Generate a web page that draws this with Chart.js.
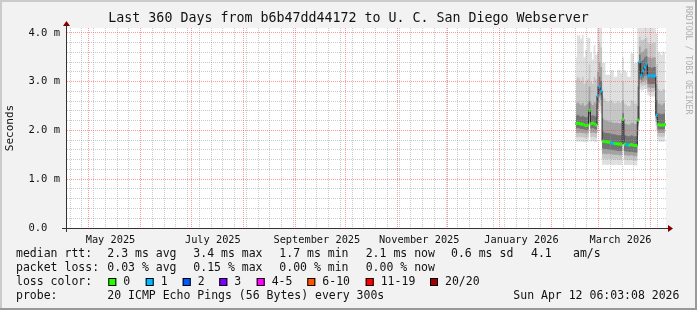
<!DOCTYPE html>
<html>
<head>
<meta charset="utf-8">
<script src="https://cdn.jsdelivr.net/npm/chart.js@4.4.1/dist/chart.umd.min.js"></script>
<style>
  html, body { margin: 0; padding: 0; background: #f2f2f2; }
</style>
</head>
<body>
<canvas id="chart" width="697" height="310"></canvas>
<script>
const DAY = 864e5;
const START = Date.UTC(2025, 3, 17, 6, 3); // graph start (360 days before the stamp)
const X_MIN = 0.22, X_MAX = 357.85;        // visible range, days after START
const Y_MAX = 4.1;                          // ms

const title = "Last 360 Days from b6b47dd44172 to U. C. San Diego Webserver";
const yTitle = "Seconds";
const watermark = "RRDTOOL / TOBI OETIKER";

// x axis: month grid lines, labelled months, weekly (Sunday) lines
const gridMonths = ["2025-05", "2025-06", "2025-07", "2025-08", "2025-09", "2025-10",
  "2025-11", "2025-12", "2026-01", "2026-02", "2026-03", "2026-04"];
const labelMonths = ["2025-05", "2025-07", "2025-09", "2025-11", "2026-01", "2026-03"];
const xTickLabels = ["May 2025", "July 2025", "September 2025", "November 2025", "January 2026", "March 2026"];
const firstSunday = "2025-04-20";

// one sample per day (noon)
const dates = [
  "2026-02-15", "2026-02-16", "2026-02-17", "2026-02-18", "2026-02-19", "2026-02-20", "2026-02-21",
  "2026-02-22", "2026-02-23", "2026-02-24", "2026-02-25", "2026-02-26", "2026-02-27", "2026-02-28",
  "2026-03-01", "2026-03-02", "2026-03-03", "2026-03-04", "2026-03-05", "2026-03-06", "2026-03-07",
  "2026-03-08", "2026-03-09", "2026-03-10", "2026-03-11", "2026-03-12", "2026-03-13", "2026-03-14",
  "2026-03-15", "2026-03-16", "2026-03-17", "2026-03-18", "2026-03-19", "2026-03-20", "2026-03-21",
  "2026-03-22", "2026-03-23", "2026-03-24", "2026-03-25", "2026-03-26", "2026-03-27", "2026-03-28",
  "2026-03-29", "2026-03-30", "2026-03-31", "2026-04-01", "2026-04-02", "2026-04-03", "2026-04-04",
  "2026-04-05", "2026-04-06", "2026-04-07", "2026-04-08", "2026-04-09"
];

// median rtt (ms) and lost pings out of 20
const median = [
  2.14, 2.15, 2.14, 2.13, 2.13, 2.11, 2.10, 2.11, 2.41, 2.14, 2.15, 2.13, 2.11, 2.71,
  2.89, 2.81, 1.78, 1.77, 1.77, 1.76, 1.76, 1.74, 1.74, 1.73, 1.73, 1.72, 1.72, 1.72,
  2.23, 1.72, 1.71, 1.70, 1.70, 1.71, 1.70, 1.69, 1.69, 2.21, 3.41, 3.13, 3.22, 3.30,
  3.36, 3.12, 3.12, 3.12, 3.12, 3.12, 2.31, 2.12, 2.11, 2.11, 2.11, 2.12
];
const loss = [
  0, 0, 0, 0, 0, 0, 0, 0, 0, 0, 0, 0, 0, 1,
  1, 1, 0, 0, 0, 0, 0, 1, 1, 0, 0, 0, 0, 0,
  0, 0, 1, 1, 0, 0, 0, 0, 0, 0, 1, 1, 1, 1,
  1, 1, 1, 1, 1, 1, 1, 0, 0, 0, 0, 0
];

// smoke: spread of the 20 pings (ms), outer to inner
const smokeMin = [
  1.77, 1.77, 1.78, 1.77, 1.77, 1.76, 1.77, 1.77, 2.12, 1.77, 1.78, 1.77, 1.76, 1.95,
  2.40, 2.35, 1.29, 1.30, 1.29, 1.29, 1.30, 1.29, 1.29, 1.29, 1.30, 1.29, 1.29, 1.29,
  1.72, 1.29, 1.29, 1.29, 1.29, 1.29, 1.29, 1.28, 1.28, 1.90, 2.85, 2.82, 2.83, 2.85,
  2.85, 2.72, 2.70, 2.70, 2.69, 2.70, 2.00, 1.78, 1.77, 1.77, 1.77, 1.78
];
const smokeMax = [
  3.50, 3.95, 3.95, 3.88, 3.96, 3.50, 3.65, 3.90, 3.90, 3.60, 3.45, 3.75, 3.55, 4.10,
  4.10, 4.10, 3.38, 3.38, 3.14, 3.14, 3.14, 3.24, 3.24, 3.10, 3.10, 3.24, 3.24, 3.17,
  3.50, 3.24, 3.20, 3.10, 3.10, 3.58, 3.58, 3.38, 3.38, 4.10, 4.10, 4.10, 4.10, 4.10,
  4.10, 4.10, 4.10, 4.10, 4.10, 4.10, 4.00, 3.62, 3.60, 3.55, 3.62, 3.60
];
const smokeLo2 = [
  1.86, 1.86, 1.87, 1.86, 1.86, 1.85, 1.85, 1.86, 2.20, 1.86, 1.87, 1.86, 1.85, 2.25,
  2.55, 2.50, 1.42, 1.42, 1.41, 1.42, 1.42, 1.41, 1.41, 1.40, 1.41, 1.40, 1.40, 1.40,
  1.80, 1.40, 1.40, 1.39, 1.39, 1.40, 1.39, 1.38, 1.38, 2.00, 2.95, 2.90, 2.92, 2.93,
  2.94, 2.80, 2.80, 2.79, 2.79, 2.80, 2.10, 1.88, 1.87, 1.87, 1.87, 1.88
];
const smokeHi2 = [
  3.05, 3.10, 3.08, 3.02, 3.10, 2.95, 3.00, 3.05, 3.35, 3.00, 2.95, 3.10, 3.05, 3.60,
  3.80, 3.70, 2.70, 2.65, 2.60, 2.58, 2.60, 2.62, 2.58, 2.55, 2.57, 2.60, 2.56, 2.58,
  3.00, 2.55, 2.52, 2.50, 2.50, 2.62, 2.60, 2.55, 2.55, 3.40, 3.92, 3.85, 3.86, 3.88,
  3.90, 3.80, 3.78, 3.78, 3.80, 3.80, 3.35, 2.85, 2.82, 2.80, 2.85, 2.85
];
const smokeLo3 = [
  1.95, 1.95, 1.96, 1.95, 1.95, 1.94, 1.93, 1.94, 2.28, 1.95, 1.96, 1.95, 1.94, 2.45,
  2.68, 2.63, 1.52, 1.52, 1.51, 1.52, 1.52, 1.51, 1.50, 1.50, 1.50, 1.50, 1.49, 1.49,
  1.90, 1.49, 1.49, 1.48, 1.48, 1.49, 1.48, 1.47, 1.47, 2.08, 3.05, 2.98, 3.00, 3.02,
  3.04, 2.88, 2.88, 2.87, 2.87, 2.88, 2.18, 1.95, 1.95, 1.95, 1.95, 1.96
];
const smokeHi3 = [
  2.55, 2.58, 2.55, 2.52, 2.56, 2.50, 2.52, 2.55, 2.90, 2.55, 2.52, 2.58, 2.55, 3.20,
  3.40, 3.30, 2.25, 2.22, 2.20, 2.20, 2.18, 2.18, 2.16, 2.15, 2.16, 2.15, 2.14, 2.15,
  2.62, 2.14, 2.13, 2.12, 2.12, 2.16, 2.15, 2.13, 2.13, 2.90, 3.72, 3.60, 3.62, 3.66,
  3.68, 3.50, 3.50, 3.48, 3.50, 3.50, 2.95, 2.55, 2.55, 2.52, 2.55, 2.56
];
const smokeLo4 = [
  2.04, 2.05, 2.04, 2.03, 2.03, 2.02, 2.01, 2.02, 2.34, 2.04, 2.05, 2.03, 2.02, 2.58,
  2.78, 2.72, 1.63, 1.62, 1.62, 1.61, 1.61, 1.60, 1.60, 1.59, 1.59, 1.58, 1.58, 1.58,
  2.00, 1.58, 1.57, 1.57, 1.56, 1.57, 1.56, 1.55, 1.55, 2.14, 3.18, 3.04, 3.08, 3.12,
  3.15, 2.96, 2.95, 2.95, 2.95, 2.96, 2.24, 2.02, 2.02, 2.02, 2.02, 2.03
];
const smokeHi4 = [
  2.30, 2.32, 2.30, 2.28, 2.30, 2.28, 2.27, 2.28, 2.60, 2.30, 2.31, 2.30, 2.28, 2.90,
  3.10, 3.02, 1.98, 1.96, 1.95, 1.95, 1.94, 1.93, 1.92, 1.92, 1.91, 1.90, 1.90, 1.90,
  2.35, 1.90, 1.89, 1.88, 1.88, 1.90, 1.89, 1.88, 1.88, 2.50, 3.55, 3.42, 3.45, 3.50,
  3.52, 3.30, 3.30, 3.28, 3.30, 3.30, 2.62, 2.35, 2.34, 2.33, 2.34, 2.35
];

const statRows = [
  ["median rtt:", "2.3 ms avg", "3.4 ms max", "1.7 ms min", "2.1 ms now", "0.6 ms sd", "4.1", "am/s"],
  ["packet loss:", "0.03 % avg", "0.15 % max", "0.00 % min", "0.00 % now"]
];
const lossLabels = ["0", "1", "2", "3", "4-5", "6-10", "11-19", "20/20"];
const lossColors = ["#26ff00", "#00b8ff", "#0059ff", "#7e00ff", "#ff00ff", "#ff5500", "#ff0000", "#a10000"];
const probeText = "20 ICMP Echo Pings (56 Bytes) every 300s";
const stamp = "Sun Apr 12 06:03:08 2026";

const FONT = "'DejaVu Sans Mono', monospace";
const GRID_MINOR = "rgba(150,150,150,0.5)";
const GRID_MAJOR = "rgba(255,70,70,0.55)";
const NONE = "rgba(0,0,0,0)";

const dayOf = iso => (Date.parse(iso) - START) / DAY;
const xs = dates.map(d => dayOf(d + "T12:00:00Z"));
const pts = arr => arr.map((v, i) => ({ x: xs[i], y: v }));

// x ticks
const monthDays = gridMonths.map(m => dayOf(m + "-01T00:00:00Z"));
const xTicks = monthDays.map(v => ({ value: v, kind: "month" }));
for (let d = dayOf(firstSunday + "T00:00:00Z"); d < X_MAX; d += 7) {
  if (!monthDays.some(m => Math.abs(m - d) < 0.5)) xTicks.push({ value: d, kind: "week" });
}
labelMonths.forEach((m, i) => {
  xTicks.push({ value: dayOf(m + "-01T00:00:00Z") + 13, kind: "label", text: xTickLabels[i] });
});
xTicks.sort((a, b) => a.value - b.value);

const yTicks = [];
for (let i = 0; i <= 20; i++) yTicks.push(Math.round(i * 2) / 10);

function band(lo, hi, color, order) {
  const base = { stepped: "middle", borderWidth: 0, pointRadius: 0, order };
  return [
    { ...base, data: pts(lo), fill: false },
    { ...base, data: pts(hi), fill: "-1", backgroundColor: color }
  ];
}

const frame = {
  id: "frame",
  beforeDraw(chart) {
    const { ctx, width, height, chartArea: a } = chart;
    ctx.save();
    ctx.fillStyle = "#f2f2f2";
    ctx.fillRect(0, 0, width, height);
    ctx.fillStyle = "#cbcbcb";
    ctx.fillRect(0, 0, width, 2);
    ctx.fillRect(0, 0, 2, height);
    ctx.fillStyle = "#999999";
    ctx.fillRect(0, height - 2, width, 2);
    ctx.fillRect(width - 2, 0, 2, height);
    ctx.fillStyle = "#ffffff";
    ctx.fillRect(a.left, a.top, a.right - a.left, a.bottom - a.top);
    ctx.restore();
  },
  afterDraw(chart) {
    const { ctx, chartArea: a } = chart;
    ctx.save();
    // axes with arrows
    ctx.strokeStyle = "#333333";
    ctx.lineWidth = 1;
    ctx.beginPath();
    ctx.moveTo(a.left - 4, a.bottom + 0.5);
    ctx.lineTo(a.right + 4, a.bottom + 0.5);
    ctx.moveTo(a.left + 0.5, a.bottom + 4);
    ctx.lineTo(a.left + 0.5, a.top - 4);
    ctx.stroke();
    ctx.fillStyle = "#7f0000";
    ctx.beginPath();
    ctx.moveTo(a.right + 2, a.bottom - 3);
    ctx.lineTo(a.right + 2, a.bottom + 4);
    ctx.lineTo(a.right + 7, a.bottom + 0.5);
    ctx.fill();
    ctx.beginPath();
    ctx.moveTo(a.left - 3, a.top - 2);
    ctx.lineTo(a.left + 4, a.top - 2);
    ctx.lineTo(a.left + 0.5, a.top - 7);
    ctx.fill();

    // title
    ctx.fillStyle = "#111111";
    ctx.textBaseline = "middle";
    ctx.textAlign = "center";
    ctx.font = "13.3px " + FONT;
    ctx.fillText(title, 348.5, 19);

    // watermark
    ctx.save();
    ctx.translate(688, 6);
    ctx.rotate(Math.PI / 2);
    ctx.textAlign = "left";
    ctx.fillStyle = "#b0b0b0";
    ctx.font = "8.2px " + FONT;
    ctx.fillText(watermark, 0, 0);
    ctx.restore();

    // legend
    ctx.textAlign = "left";
    ctx.font = "11.5px " + FONT;
    const cols = [16, 107.3, 193.3, 279.3, 365.7, 451, 531, 573];
    statRows.forEach((row, r) => {
      row.forEach((t, c) => ctx.fillText(t, cols[c], 254.5 + r * 14));
    });
    ctx.fillText("loss color:", 16, 282.5);
    const boxX = [108.3, 145.7, 182.7, 219.3, 256.7, 307.3, 365.7, 430];
    lossLabels.forEach((t, i) => {
      ctx.fillStyle = lossColors[i];
      ctx.fillRect(boxX[i], 278, 8, 8);
      ctx.strokeStyle = "#000000";
      ctx.strokeRect(boxX[i] + 0.5, 278.5, 7, 7);
      ctx.fillStyle = "#111111";
      ctx.fillText(t, boxX[i] + 15, 282.5);
    });
    ctx.fillText("probe:", 16, 296.5);
    ctx.fillText(probeText, 107.3, 296.5);
    ctx.fillText(stamp, 513.3, 296.5);
    ctx.restore();
  }
};

Chart.defaults.font.family = FONT;

new Chart(document.getElementById("chart"), {
  type: "line",
  data: {
    datasets: [
      {
        data: pts(median),
        showLine: false,
        pointStyle: "line",
        pointRadius: 1,
        pointBorderWidth: 3,
        pointBorderColor: loss.map(l => lossColors[l]),
        pointBackgroundColor: loss.map(l => lossColors[l]),
        order: 1
      },
      {
        data: pts(median),
        stepped: "middle",
        borderColor: "#202020",
        borderWidth: 1,
        pointRadius: 0,
        fill: false,
        order: 2
      },
      ...band(smokeLo4, smokeHi4, "#747474", 7),
      ...band(smokeLo3, smokeHi3, "#a2a2a2", 8),
      ...band(smokeLo2, smokeHi2, "#c6c6c6", 9),
      ...band(smokeMin, smokeMax, "#dfdfdf", 10)
    ]
  },
  options: {
    responsive: false,
    animation: false,
    devicePixelRatio: 1,
    events: [],
    layout: { padding: { left: 0, right: 31, top: 28, bottom: 60 } },
    plugins: { legend: { display: false }, tooltip: { enabled: false } },
    scales: {
      x: {
        type: "linear",
        min: X_MIN,
        max: X_MAX,
        bounds: "data",
        afterBuildTicks: s => { s.ticks = xTicks.map(t => ({ ...t })); },
        afterFit: s => { s.height = 22; },
        grid: {
          z: 1,
          drawTicks: false,
          color: c => c.tick && c.tick.kind === "month" ? GRID_MAJOR : c.tick && c.tick.kind === "week" ? GRID_MINOR : NONE
        },
        border: { color: "#333333", dash: [1, 1], z: 2 },
        ticks: {
          autoSkip: false,
          maxRotation: 0,
          minRotation: 0,
          padding: 6,
          color: "#111111",
          font: { size: 10.3 },
          callback: (v, i, t) => t[i].text || ""
        }
      },
      y: {
        type: "linear",
        min: 0,
        max: Y_MAX,
        bounds: "data",
        afterBuildTicks: s => { s.ticks = yTicks.map(v => ({ value: v })); },
        afterFit: s => { s.width = 66; },
        grid: {
          z: 1,
          drawTicks: false,
          color: c => c.tick && Math.abs(c.tick.value - Math.round(c.tick.value)) < 1e-6 ? GRID_MAJOR : GRID_MINOR
        },
        border: { color: "#333333", dash: [1, 1], z: 2 },
        ticks: {
          autoSkip: false,
          padding: 6,
          color: "#111111",
          font: { size: 10.5 },
          callback: v => Math.abs(v - Math.round(v)) < 1e-6 ? v.toFixed(1) + (v === 0 ? "  " : " m") : ""
        },
        title: {
          display: true,
          text: yTitle,
          color: "#111111",
          font: { size: 11 },
          padding: { top: 4, bottom: 0 }
        }
      }
    }
  },
  plugins: [frame]
});
</script>
</body>
</html>
